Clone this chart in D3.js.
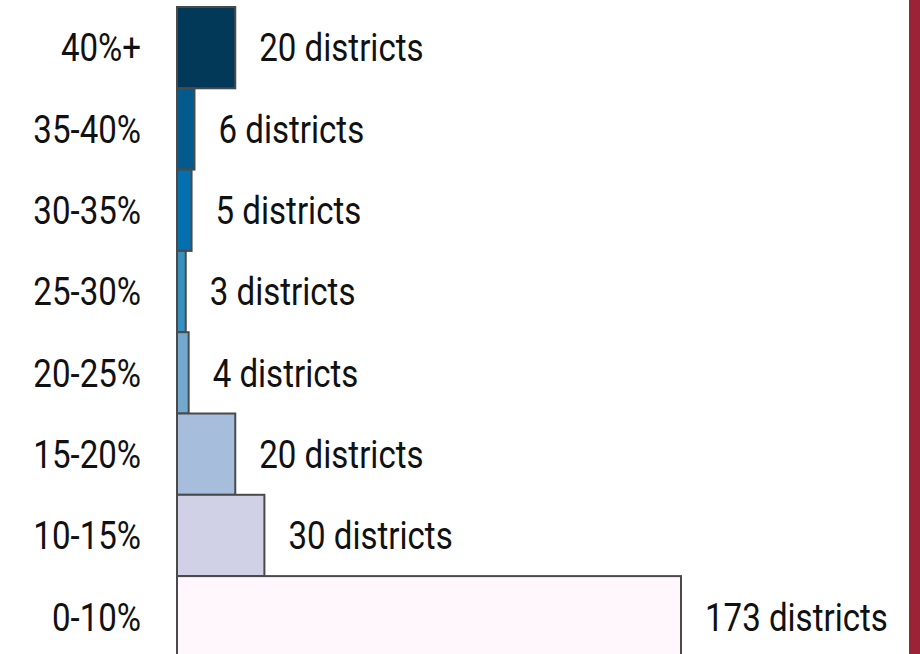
<!DOCTYPE html>
<html>
<head>
<meta charset="utf-8">
<script src="https://cdn.jsdelivr.net/npm/d3@7"></script>
<style>
  body { margin: 0; background: #fff; }
  svg { display: block; }
  text { font-family: Roboto, "Liberation Sans", sans-serif; fill: #111; }
</style>
</head>
<body>
<div id="chart"></div>
<script>
// share bands, top to bottom
var categories = ["40%+", "35-40%", "30-35%", "25-30%", "20-25%", "15-20%", "10-15%", "0-10%"];
var districts = [20, 6, 5, 3, 4, 20, 30, 173];
var colours = ["#023858", "#045a8d", "#0570b0", "#3690c0", "#74a9cf", "#a6bddb", "#d0d1e6", "#fff7fb"];

var width = 920, height = 654;
var squeeze = 0.87; // fake a condensed face

var svg = d3.select("#chart").append("svg")
  .attr("width", width)
  .attr("height", height);

var x = d3.scaleLinear().domain([0, 173]).range([177, 681]);
var y = d3.scaleBand().domain(categories).range([7, 7 + 8 * 81.3]).padding(0);

var data = categories.map(function(c, i) {
  return { cat: c, n: districts[i], col: colours[i] };
});

svg.selectAll("rect.bar").data(data).enter().append("rect")
  .attr("class", "bar")
  .attr("x", x(0))
  .attr("y", function(d) { return y(d.cat); })
  .attr("width", function(d) { return x(d.n) - x(0); })
  .attr("height", y.bandwidth())
  .attr("fill", function(d) { return d.col; })
  .attr("stroke", "#4a4a4a")
  .attr("stroke-width", 2);

// category labels
svg.selectAll("text.cat").data(data).enter().append("text")
  .attr("class", "cat")
  .attr("transform", function(d) {
    return "translate(141," + (y(d.cat) + y.bandwidth() / 2 + 1) + ") scale(" + squeeze + ",1)";
  })
  .attr("text-anchor", "end")
  .attr("dominant-baseline", "central")
  .style("font-size", "38px")
  .text(function(d) { return d.cat; });

// value labels
svg.selectAll("text.val").data(data).enter().append("text")
  .attr("class", "val")
  .attr("transform", function(d) {
    return "translate(" + (x(d.n) + 24) + "," + (y(d.cat) + y.bandwidth() / 2 + 1) + ") scale(" + squeeze + ",1)";
  })
  .attr("dominant-baseline", "central")
  .style("font-size", "38px")
  .text(function(d) { return d.n + " districts"; });

// side strip
svg.append("rect")
  .attr("x", 909).attr("y", 0)
  .attr("width", width - 909).attr("height", height)
  .attr("fill", "#9c2236");
</script>
</body>
</html>
